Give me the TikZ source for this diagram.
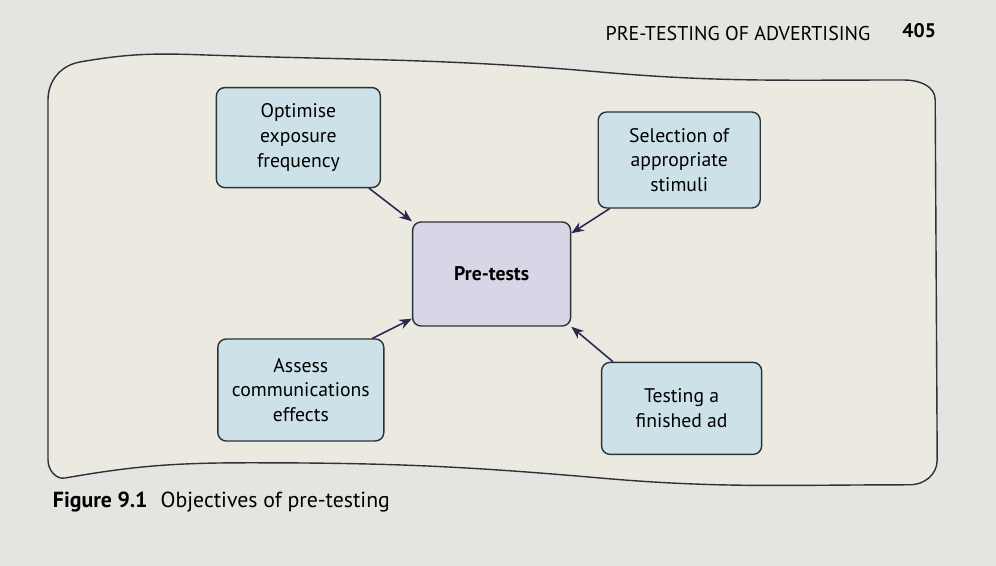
\documentclass[tikz,border=0pt]{standalone}
\usepackage{fontspec}
\setmainfont{PT Sans}
\usetikzlibrary{arrows.meta}

\definecolor{pagegray}{HTML}{E4E4E1}
\definecolor{panelfill}{HTML}{ECE9E1}
\definecolor{boxblue}{HTML}{CCE2E8}
\definecolor{boxlilac}{HTML}{D8D5E6}
\definecolor{edgedark}{HTML}{2B3338}
\definecolor{arrowink}{HTML}{2A2850}

\tikzset{
  objbox/.style={draw=edgedark, line width=1pt, fill=boxblue, rounded corners=6pt,
    align=center, font=\fontsize{14}{17.5}\selectfont, inner sep=2pt},
  hubbox/.style={objbox, fill=boxlilac, font=\fontsize{14}{17.5}\selectfont\bfseries},
  arr/.style={-{Stealth[length=9pt,width=7pt]}, line width=1.1pt, draw=arrowink}
}

\begin{document}
\begin{tikzpicture}[line join=round, line cap=round]
  % 1. Page and frame
  \useasboundingbox (0,0) rectangle (24.9,14.15);
  \fill[pagegray] (0,0) rectangle (24.9,14.15);

  \node (head) at (18.45,13.3) {\fontsize{14.2}{16}\selectfont PRE-TESTING OF ADVERTISING};
  \node[font=\fontsize{14}{16}\selectfont\bfseries] (pagenum) at (22.98,13.38) {405};

  % wavy panel behind the diagram
  \draw[line width=1pt, draw=edgedark, fill=panelfill]
    (1.2,11.65) to[out=90,in=190] (2.0,12.6)
    to[out=10,in=178] (5.0,12.78)
    to[out=-2,in=175] (15,12.35)
    to[out=-5,in=180] (22.6,12.15)
    to[out=0,in=90] (23.38,11.65)
    -- (23.43,2.65)
    to[out=-90,in=0] (22.75,2.03)
    to[out=180,in=-5] (15,2.2)
    to[out=175,in=0] (6.25,2.58)
    to[out=180,in=10] (1.63,2.2)
    to[out=190,in=-90] (1.2,2.65) -- cycle;

  % 2. Boxes
  \node[hubbox, minimum width=3.95cm, minimum height=2.6cm] (pretests) at (12.29,7.3) {Pre-tests};

  \node[objbox, minimum width=4.1cm, minimum height=2.5cm] (optimise) at (7.46,10.71)
    {Optimise\\exposure\\frequency};
  \node[objbox, minimum width=4.05cm, minimum height=2.4cm] (select) at (16.98,10.15)
    {Selection of\\appropriate\\stimuli};
  \node[objbox, minimum width=4.15cm, minimum height=2.55cm] (assess) at (7.52,4.4)
    {Assess\\communications\\effects};
  \node[objbox, minimum width=4.0cm, minimum height=2.3cm] (testing) at (17.04,3.94)
    {Testing a\\finished ad};

  % 3. Arrows into the hub
  \draw[arr] ([xshift=-3mm]optimise.south east) -- (pretests.north west);
  \draw[arr] ([xshift=3mm]select.south west) -- ([yshift=-3mm]pretests.north east);
  \draw[arr] ([xshift=-3mm]assess.north east) -- ([yshift=2mm]pretests.south west);
  \draw[arr] ([xshift=3mm]testing.north west) -- (pretests.south east);

  % 4. Caption
  \node[anchor=west, font=\fontsize{15.5}{18}\selectfont] (caption) at (1.2,1.6)
    {\textbf{Figure 9.1}\hspace{0.6em}Objectives of pre-testing};
\end{tikzpicture}
\end{document}
